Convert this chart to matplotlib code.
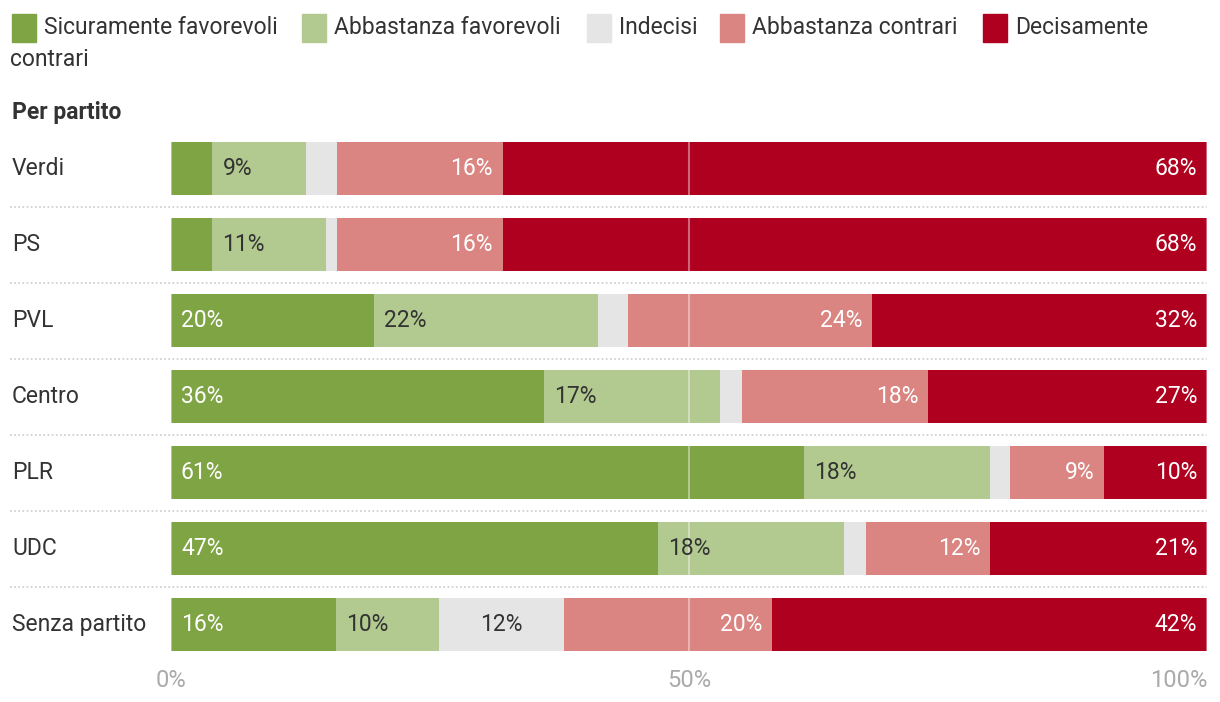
import matplotlib.pyplot as plt
from matplotlib.patches import Rectangle

plt.rcParams['font.family'] = ['Roboto', 'DejaVu Sans']

parties = ["Verdi", "PS", "PVL", "Centro", "PLR", "UDC", "Senza partito"]
series = ["Sicuramente favorevoli", "Abbastanza favorevoli", "Indecisi",
          "Abbastanza contrari", "Decisamente contrari"]
sicur_fav = [4.0, 4.0, 19.6, 36.0, 61.1, 47.0, 15.9]
abb_fav = [9.0, 11.0, 21.6, 17.0, 18.0, 18.0, 10.0]
indecisi = [3.0, 1.0, 2.9, 2.1, 1.9, 2.1, 12.0]
abb_contr = [16.0, 16.0, 23.6, 18.0, 9.1, 12.0, 20.1]
dec_contr = [68.0, 68.0, 32.3, 26.9, 9.9, 20.9, 42.0]
ticks = [0, 50, 100]
tick_labels = ["0%", "50%", "100%"]

colors = ["#7ea444", "#b2c98f", "#e5e5e5", "#da8581", "#b0001f"]
txt_colors = ["white", "#333333", "#333333", "white", "white"]
dark = "#333333"
fs = 16.5

W, H = 1220, 702
fig = plt.figure(figsize=(W / 100, H / 100), dpi=100)
ax = fig.add_axes([171 / W, 1 - 662.5 / H, (1207 - 171) / W, (662.5 - 130.5) / H])

data = [sicur_fav, abb_fav, indecisi, abb_contr, dec_contr]
y = list(range(len(parties)))
left = [0.0] * len(parties)
for k, vals in enumerate(data):
    ax.barh(y, vals, left=left, height=0.7, color=colors[k], zorder=2)
    for i, v in enumerate(vals):
        if round(v) >= 5:
            if k in (0, 1):
                x, ha, dx = left[i], "left", 10
            elif k == 2:
                x, ha, dx = left[i] + v / 2, "center", 0
            else:
                x, ha, dx = left[i] + v, "right", -10
            ax.annotate(f"{round(v)}%", (x, i), xytext=(dx, 0),
                        textcoords="offset pixels", ha=ha, va="center",
                        fontsize=fs, color=txt_colors[k], zorder=4)
    left = [a + b for a, b in zip(left, vals)]

# grid on top of bars
for t in ticks:
    ax.axvline(t, color="white", alpha=0.4, lw=1.5, zorder=3)

# dotted row separators
for i in range(len(parties) - 1):
    ax.axhline(i + 0.5, xmin=(10 - 171) / 1036, xmax=1, color="#cccccc",
               lw=1.2, ls=(0, (1, 1.5)), clip_on=False, zorder=1)

ax.set_xlim(0, 100)
ax.set_ylim(len(parties) - 0.5, -0.5)
for s in ax.spines.values():
    s.set_visible(False)
ax.set_yticks([])
ax.set_xticks(ticks)
ax.set_xticklabels(tick_labels, color="#aaaaaa", fontsize=17)
ax.get_xticklabels()[-1].set_ha("right")
ax.tick_params(axis="x", length=0, pad=5)

# row labels
for i, p in enumerate(parties):
    fig.text(12 / W, 1 - (168.5 + 76 * i) / H, p, ha="left", va="center",
             fontsize=fs, color=dark)

fig.text(12 / W, 1 - 112 / H, "Per partito", ha="left", va="center",
         fontsize=fs, fontweight="bold", color=dark)

# legend
sq_x = [12, 302, 587, 720, 983]
leg_labels = ["Sicuramente favorevoli", "Abbastanza favorevoli", "Indecisi",
              "Abbastanza contrari", "Decisamente"]
for k, xs in enumerate(sq_x):
    fig.patches.append(Rectangle((xs / W, 1 - 42 / H), 24 / W, 28 / H,
                                 transform=fig.transFigure, color=colors[k]))
    fig.text((xs + 32) / W, 1 - 27 / H, leg_labels[k], ha="left", va="center",
             fontsize=fs, color=dark)
fig.text(10 / W, 1 - 60 / H, "contrari", ha="left", va="center",
         fontsize=fs, color=dark)

fig.savefig("out.png", dpi=100)
